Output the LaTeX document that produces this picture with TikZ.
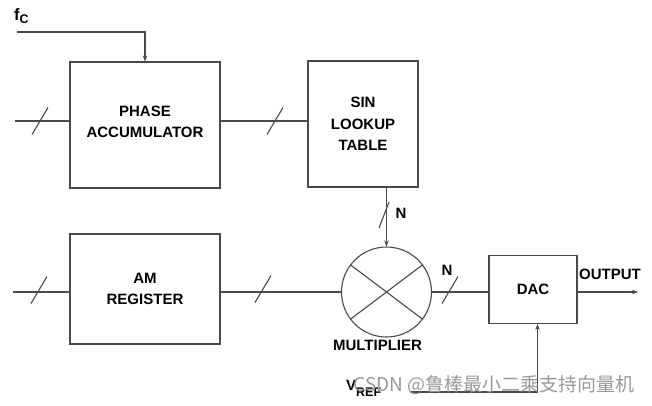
\documentclass[tikz,border=0pt]{standalone}
\usepackage{fontspec}
\setmainfont{Liberation Sans}
\newfontfamily\cjkfont{Noto Sans CJK SC}
\usetikzlibrary{arrows.meta}
\definecolor{linec}{HTML}{4A4A4A}
\begin{document}
\begin{tikzpicture}[x=1pt,y=-1pt,
  lbl/.style={font=\bfseries\fontsize{15}{21.5}\selectfont, align=center, inner sep=0pt},
  blk/.style={draw=linec, line width=1.1pt, lbl},
  wire/.style={draw=linec, line width=1.1pt},
  arr/.style={wire, -{Stealth[length=6pt,width=4.5pt]}},
  slash/.style={draw=linec, line width=1.1pt}
]
\useasboundingbox (0,0) rectangle (652,405);

% blocks
\node[blk, minimum width=150pt, minimum height=126pt] (pa) at (145,125) {};
\node[lbl] (patxt) at (145,122) {PHASE\\ACCUMULATOR};
\node[blk, minimum width=110pt, minimum height=126pt] (sin) at (363,124) {SIN\\LOOKUP\\TABLE};
\node[blk, minimum width=150pt, minimum height=110pt] (am) at (145,289) {AM\\REGISTER};
\node[blk, minimum width=88pt, minimum height=68pt] (dac) at (533,289.5) {DAC};
\node[draw=linec, line width=1.1pt, circle, minimum size=90pt, inner sep=0pt] (mul) at (386.5,292) {};
\draw[wire] (mul.143) -- (mul.-37);
\draw[wire] (mul.37) -- (mul.-143);

% labels
\node[lbl] (mullbl) at (377.5,345) {MULTIPLIER};
\node[lbl] (n1) at (401,213) {N};
\node[lbl] (n2) at (447,270) {N};
\node[lbl] (outlbl) at (610,274) {OUTPUT};
\node[lbl, anchor=base west, font=\bfseries\fontsize{16.5}{16.5}\selectfont] (fclbl) at (14,20.5) {f\raisebox{-3pt}{\fontsize{12.5}{12.5}\selectfont C}};
\node[lbl, anchor=base west, font=\bfseries\fontsize{15}{15}\selectfont] (vreflbl) at (346,390) {V\raisebox{-6.5pt}{\fontsize{12.5}{12.5}\selectfont REF}};

% coordinates for free ends
\coordinate (pin) at (15,121);
\coordinate (ain) at (13,292);
\coordinate (fc) at (17,32);
\coordinate (oend) at (638,292);
\coordinate (vr) at (410,392);
\coordinate (vrt) at (537.5,392);

% connectors
\draw[wire] (pin) -- (pin -| pa.west);
\draw[wire] (pa.east |- pin) -- (sin.west |- pin);
\draw[wire] (ain) -- (ain -| am.west);
\draw[wire] (am.east |- ain) -- (mul.west);
\draw[wire] (mul.east) -- (dac.west |- mul.east);
\draw[arr] (dac.east |- oend) -- (oend);
\draw[arr] (sin.south -| mul.north) -- (mul.north);
\draw[arr] (fc) -| (pa.north);
\draw[wire] (vr) -- (vrt);
\draw[arr] (vrt) -- (vrt |- dac.south);

% bus slashes
\draw[slash] (32,134.5) -- (48,107.5);
\draw[slash] (267,134.5) -- (283,107.5);
\draw[slash] (31,303.5) -- (47,276.5);
\draw[slash] (255,302.5) -- (271,275.5);
\draw[slash] (442,303.5) -- (458,276.5);
\draw[slash] (379,228) -- (389,202);

% watermark
\node[inner sep=0pt, text=gray!80, font=\cjkfont\fontsize{19}{19}\selectfont] (wm) at (494,385) {CSDN @鲁棒最小二乘支持向量机};
\end{tikzpicture}
\end{document}
